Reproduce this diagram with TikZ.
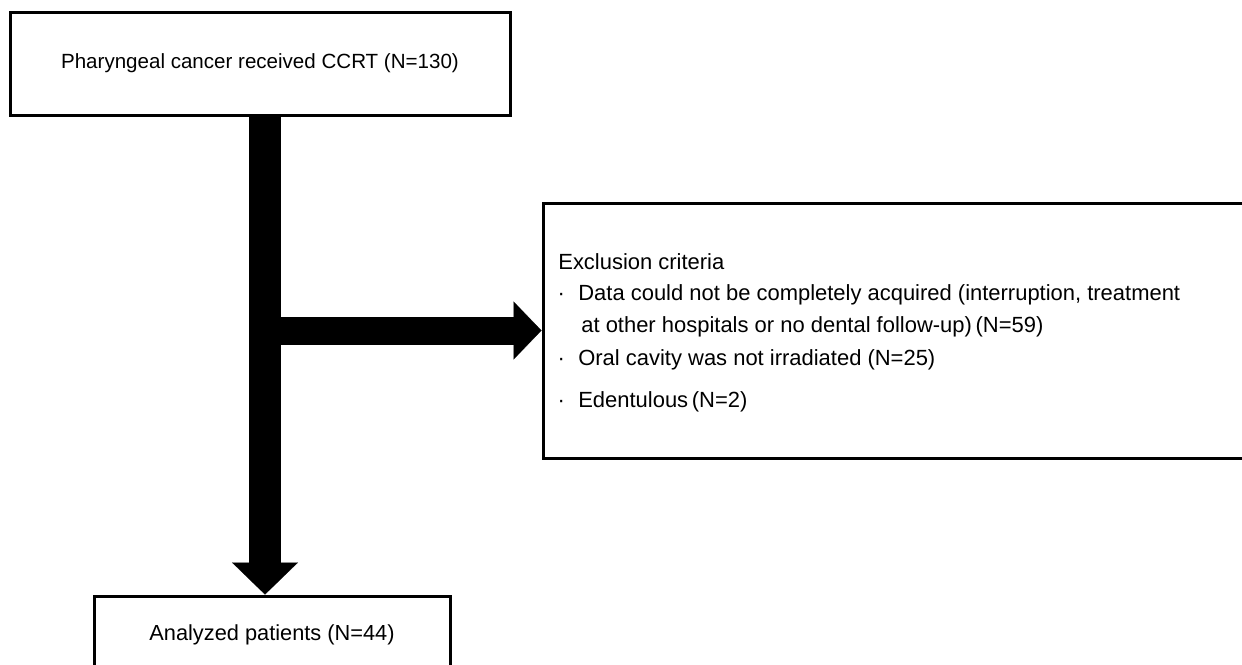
\documentclass[tikz,border=0pt]{standalone}
\usepackage{fontspec}
\setmainfont{Liberation Sans}
\usetikzlibrary{arrows.meta}
\newlength\pxu
\setlength\pxu{0.02cm}

\begin{document}
\begin{tikzpicture}[x=0.02cm, y=-0.02cm,
    box/.style={draw, line width=3\pxu, inner sep=0pt},
    crit/.style={anchor=base west, inner sep=0pt, font=\fontsize{12.5pt}{15pt}\selectfont},
    bullet/.style={crit, text depth=0pt},
    blockarrow/.style n args={3}{line width=#1,
        -{Triangle[length=#2, width=#3, line width=0.1pt]}}]
    \useasboundingbox (0,0) rectangle (1242,664);
    \node[box, minimum width=500\pxu, minimum height=103\pxu,
        font=\fontsize{11.7pt}{14pt}\selectfont] (top) at (260,63.5)
        {Pharyngeal cancer received CCRT (N=130)};
    \node[box, minimum width=707\pxu, minimum height=255\pxu] (excl) at (896.5,330.5) {};
    \node[box, minimum width=356\pxu, minimum height=78\pxu,
        font=\fontsize{12.4pt}{14pt}\selectfont] (analyzed) at (272,635)
        {Analyzed patients (N=44)};
    \coordinate (split) at (265,330.5);
    % exclusion criteria
    \node[crit] (crithead) at (558,269) {Exclusion criteria};
    \node[crit] (crit1) at (554,300) {\makebox[14\pxu][c]{·}\hspace{10\pxu}Data could not be completely acquired (interruption, treatment};
    \node[crit] (crit1b) at (581,332) {at other hospitals or no dental follow-up)\,(N=59)};
    \node[crit] (crit2) at (554,365) {\makebox[14\pxu][c]{·}\hspace{10\pxu}Oral cavity was not irradiated (N=25)};
    \node[crit] (crit3) at (554,407) {\makebox[14\pxu][c]{·}\hspace{10\pxu}Edentulous\,(N=2)};
    % arrows
    \draw[blockarrow={0.64cm}{0.64cm}{1.32cm}] (top.south -| split) -- (analyzed.north -| split);
    \draw[blockarrow={0.56cm}{0.56cm}{1.16cm}] (split) -- (excl.west);
\end{tikzpicture}
\end{document}
